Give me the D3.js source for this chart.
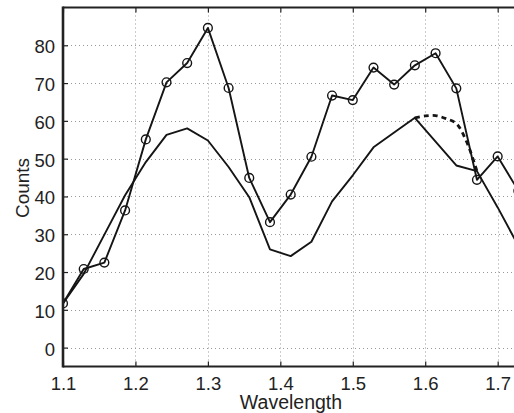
<!DOCTYPE html>
<meta charset="utf-8"/>
<html>
  <head>
    <script src="https://d3js.org/d3.v7.min.js"></script>
    <style>
      body { margin: 0; background: white; }
      text { font-family: 'Liberation Sans', Arial, sans-serif; fill: #222; }
    </style>
  </head>
  <body>
<script type="text/javascript">
// wavelength samples (x) shared by the marked series
var wavelength = [1.1, 1.1286, 1.1571, 1.1857, 1.2143, 1.2429, 1.2714, 1.3, 1.3286, 1.3571,
                  1.3857, 1.4143, 1.4429, 1.4714, 1.5, 1.5286, 1.5571, 1.5857, 1.6143, 1.6429,
                  1.6714, 1.7, 1.7286];
// measured counts, drawn with circles
var counts = [11.7, 20.8, 22.5, 36.3, 55.1, 70.2, 75.3, 84.6, 68.7, 44.9,
              33.2, 40.5, 50.5, 66.7, 65.5, 74.1, 69.6, 74.7, 77.9, 68.6,
              44.4, 50.6, 41.5];
// smooth model, plain line
var model = [11.7, 19.5, 29.9, 40.3, 49.1, 56.3, 58.0, 54.8, 47.8, 39.8,
             26.0, 24.2, 28.0, 38.7, 45.6, 53.0, 56.9, 60.8, 54.5, 48.2,
             46.7, 37.1, 26.9];
// dashed branch between 1.59 and 1.67
var dashX = [1.5857, 1.6, 1.6143, 1.6286, 1.6429, 1.6571, 1.6714];
var dashY = [60.8, 61.3, 61.4, 60.6, 59.3, 54.5, 46.7];
var xTicks = [1.1, 1.2, 1.3, 1.4, 1.5, 1.6, 1.7];
var yTicks = [0, 10, 20, 30, 40, 50, 60, 70, 80];

var W = 514, H = 413;
var pLeft = 63, pTop = 7.5, pBottom = 366.5, pRight = 519.4;

var svg = d3.select('body').append('svg')
    .attr('width', W)
    .attr('height', H);

var x = d3.scaleLinear().domain([1.1, 1.73]).range([pLeft, pRight]);
var y = d3.scaleLinear().domain([-5, 90]).range([pBottom, pTop]);

svg.append('clipPath').attr('id', 'plotclip')
  .append('rect')
    .attr('x', pLeft).attr('y', pTop)
    .attr('width', pRight - pLeft).attr('height', pBottom - pTop);

// dotted grid
var grid = svg.append('g')
    .attr('stroke', '#999')
    .attr('stroke-width', 1)
    .attr('stroke-dasharray', '1,3');
grid.selectAll('.gx').data(xTicks.slice(1)).enter().append('line')
    .attr('x1', function(d) { return Math.round(x(d)) + 0.5; })
    .attr('x2', function(d) { return Math.round(x(d)) + 0.5; })
    .attr('y1', pTop).attr('y2', pBottom);
grid.selectAll('.gy').data(yTicks).enter().append('line')
    .attr('y1', function(d) { return Math.round(y(d)) + 0.5; })
    .attr('y2', function(d) { return Math.round(y(d)) + 0.5; })
    .attr('x1', pLeft).attr('x2', pRight);

var plot = svg.append('g').attr('clip-path', 'url(#plotclip)');

var line = d3.line()
    .x(function(d) { return x(d[0]); })
    .y(function(d) { return y(d[1]); });

plot.append('path')
    .attr('d', line(d3.zip(wavelength, model)))
    .attr('fill', 'none')
    .attr('stroke', '#151515')
    .attr('stroke-width', 1.9)
    .attr('stroke-linejoin', 'round');

plot.append('path')
    .attr('d', line.curve(d3.curveCatmullRom)(d3.zip(dashX, dashY)))
    .attr('fill', 'none')
    .attr('stroke', '#151515')
    .attr('stroke-width', 2.8)
    .attr('stroke-dasharray', '5,4');
line.curve(d3.curveLinear);

plot.append('path')
    .attr('d', line(d3.zip(wavelength, counts)))
    .attr('fill', 'none')
    .attr('stroke', '#151515')
    .attr('stroke-width', 1.9)
    .attr('stroke-linejoin', 'round');

plot.append('g')
    .selectAll('circle')
    .data(d3.zip(wavelength, counts))
    .enter()
    .append('circle')
    .attr('cx', function(d) { return x(d[0]); })
    .attr('cy', function(d) { return y(d[1]); })
    .attr('r', 4.4)
    .attr('fill', 'none')
    .attr('stroke', '#151515')
    .attr('stroke-width', 1.4);

// axes, ticks pointing inward
var xBottom = svg.append('g')
    .attr('transform', 'translate(0,' + pBottom + ')')
    .call(d3.axisBottom(x).tickValues(xTicks).tickSize(-5).tickPadding(10).tickFormat(d3.format('.1f')));
var xTop = svg.append('g')
    .attr('transform', 'translate(0,' + pTop + ')')
    .call(d3.axisTop(x).tickValues(xTicks).tickSize(-5).tickFormat(''));
var yLeft = svg.append('g')
    .attr('transform', 'translate(' + pLeft + ',0)')
    .call(d3.axisLeft(y).tickValues(yTicks).tickSize(-5).tickPadding(8));

[xBottom, xTop, yLeft].forEach(function(g) {
  g.select('.domain').remove();
  g.selectAll('.tick line').attr('stroke', '#222').attr('stroke-width', 1.2);
  g.selectAll('.tick text')
      .style('font-family', "'Liberation Sans', Arial, sans-serif")
      .style('font-size', '18.5px')
      .attr('fill', '#222');
});
yLeft.selectAll('.tick text').attr('dy', '0.4em');

// frame: left, top and bottom edges
svg.append('line')
    .attr('x1', pLeft).attr('x2', pLeft)
    .attr('y1', pTop - 1).attr('y2', pBottom + 1)
    .attr('stroke', '#222').attr('stroke-width', 2.6);
svg.append('line')
    .attr('x1', pLeft).attr('x2', pRight)
    .attr('y1', pTop).attr('y2', pTop)
    .attr('stroke', '#222').attr('stroke-width', 1.8);
svg.append('line')
    .attr('x1', pLeft).attr('x2', pRight)
    .attr('y1', pBottom).attr('y2', pBottom)
    .attr('stroke', '#222').attr('stroke-width', 2.2);

svg.append('text')
    .attr('x', 291)
    .attr('y', 409)
    .attr('text-anchor', 'middle')
    .style('font-size', '19.5px')
    .text('Wavelength');

svg.append('text')
    .attr('transform', 'translate(28.5,188) rotate(-90)')
    .attr('text-anchor', 'middle')
    .style('font-size', '19px')
    .text('Counts');
</script>
  </body>
</html>
